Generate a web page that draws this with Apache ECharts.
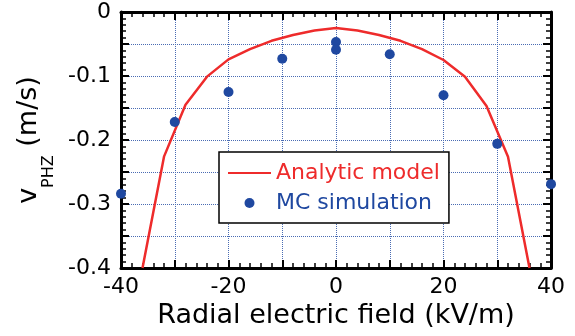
<!DOCTYPE html>
<html><head><meta charset="utf-8">
<script src="https://cdn.jsdelivr.net/npm/echarts@6/dist/echarts.min.js"></script>
<style>html,body{margin:0;padding:0;background:#fff}#c{width:575px;height:336px}</style>
</head><body><div id="c"></div>
<script>
// Analytic model curve
const modelX = [-36,-32,-28,-24,-20,-16,-12,-8,-4,0,4,8,12,16,20,24,28,32,36];
const modelY = [-0.40,-0.226,-0.145,-0.101,-0.074,-0.058,-0.045,-0.036,-0.029,-0.025,-0.029,-0.036,-0.045,-0.058,-0.075,-0.101,-0.147,-0.226,-0.40];
// MC simulation points
const mcX = [-40,-30,-20,-10,0,0,10,20,30,40];
const mcY = [-0.284,-0.172,-0.125,-0.073,-0.047,-0.059,-0.066,-0.130,-0.206,-0.269];
// axis ticks
const xTickLabels = [-40,-20,0,20,40];
const yTickLabels = [0,-0.1,-0.2,-0.3,-0.4];

const FONT = 'DejaVu Sans';
const RED = '#ee2b2b', BLUE = '#1f48a0';
const chart = echarts.init(document.getElementById('c'), null, {renderer:'canvas'});
const axisBase = {
  type:'value',
  axisLine:{show:true, onZero:false, lineStyle:{color:'#000', width:3}},
  axisTick:{show:true, inside:true, length:8, lineStyle:{color:'#000', width:2}},
  minorTick:{show:true, splitNumber:5, length:5, lineStyle:{color:'#000', width:1.5}},
  splitLine:{show:false}
};
const gridLine = {show:true, lineStyle:{color:'#4a6cb3', width:1, type:'dotted'}};
const option = {
  animation:false,
  grid:{left:121, right:24, top:12, bottom:68},
  xAxis:[
    Object.assign({}, axisBase, {min:-40, max:40, interval:10, position:'bottom',
      splitLine:gridLine,
      axisLabel:{show:true, margin:8, fontSize:22, fontFamily:FONT, color:'#000',
        formatter:v => xTickLabels.indexOf(v) >= 0 ? String(v) : ''},
      name:'Radial electric field (kV/m)', nameLocation:'middle', nameGap:34,
      nameTextStyle:{fontSize:27, fontFamily:FONT, color:'#000'}}),
    Object.assign({}, axisBase, {min:-40, max:40, interval:10, position:'top', axisLabel:{show:false}})
  ],
  yAxis:[
    Object.assign({}, axisBase, {min:-0.4, max:0, interval:0.05, position:'left',
      splitLine:gridLine,
      axisLabel:{show:true, margin:10, fontSize:22, fontFamily:FONT, color:'#000',
        formatter:v => { const r = Math.round(v*10)/10; return (Math.abs(v - r) < 1e-6 && yTickLabels.indexOf(r) >= 0) ? (r === 0 ? '0' : String(r)) : ''; }},
      name:'{a|v}{b|PHZ}{a| (m/s)}', nameLocation:'middle', nameGap:64,
      nameTextStyle:{fontFamily:FONT, color:'#000',
        rich:{a:{fontSize:27, fontFamily:FONT, lineHeight:28, verticalAlign:'top', color:'#000'},
              b:{fontSize:16, fontFamily:FONT, lineHeight:16, padding:[26,0,0,0], verticalAlign:'top', color:'#000'}}}}),
    Object.assign({}, axisBase, {min:-0.4, max:0, interval:0.05, position:'right', axisLabel:{show:false}})
  ],
  legend:{
    orient:'vertical', left:219, top:152, padding:[10,9,9,8],
    itemWidth:43, itemHeight:10, itemGap:8,
    backgroundColor:'#fff', borderColor:'#000', borderWidth:1.5, borderRadius:0,
    textStyle:{fontSize:22, fontFamily:FONT, lineHeight:22},
    data:[{name:'Analytic model', textStyle:{color:RED}, itemStyle:{opacity:0}},
          {name:'MC simulation', textStyle:{color:BLUE}}]
  },
  series:[
    {name:'Analytic model', type:'line', data:modelX.map((x,i)=>[x, modelY[i]]),
      symbol:'none', lineStyle:{color:RED, width:2.5}, itemStyle:{color:RED}, clip:true, z:3},
    {name:'MC simulation', type:'scatter', data:mcX.map((x,i)=>[x, mcY[i]]),
      symbol:'circle', symbolSize:10, itemStyle:{color:BLUE, opacity:1}, clip:false, z:5}
  ]
};
chart.setOption(option);
</script></body></html>
